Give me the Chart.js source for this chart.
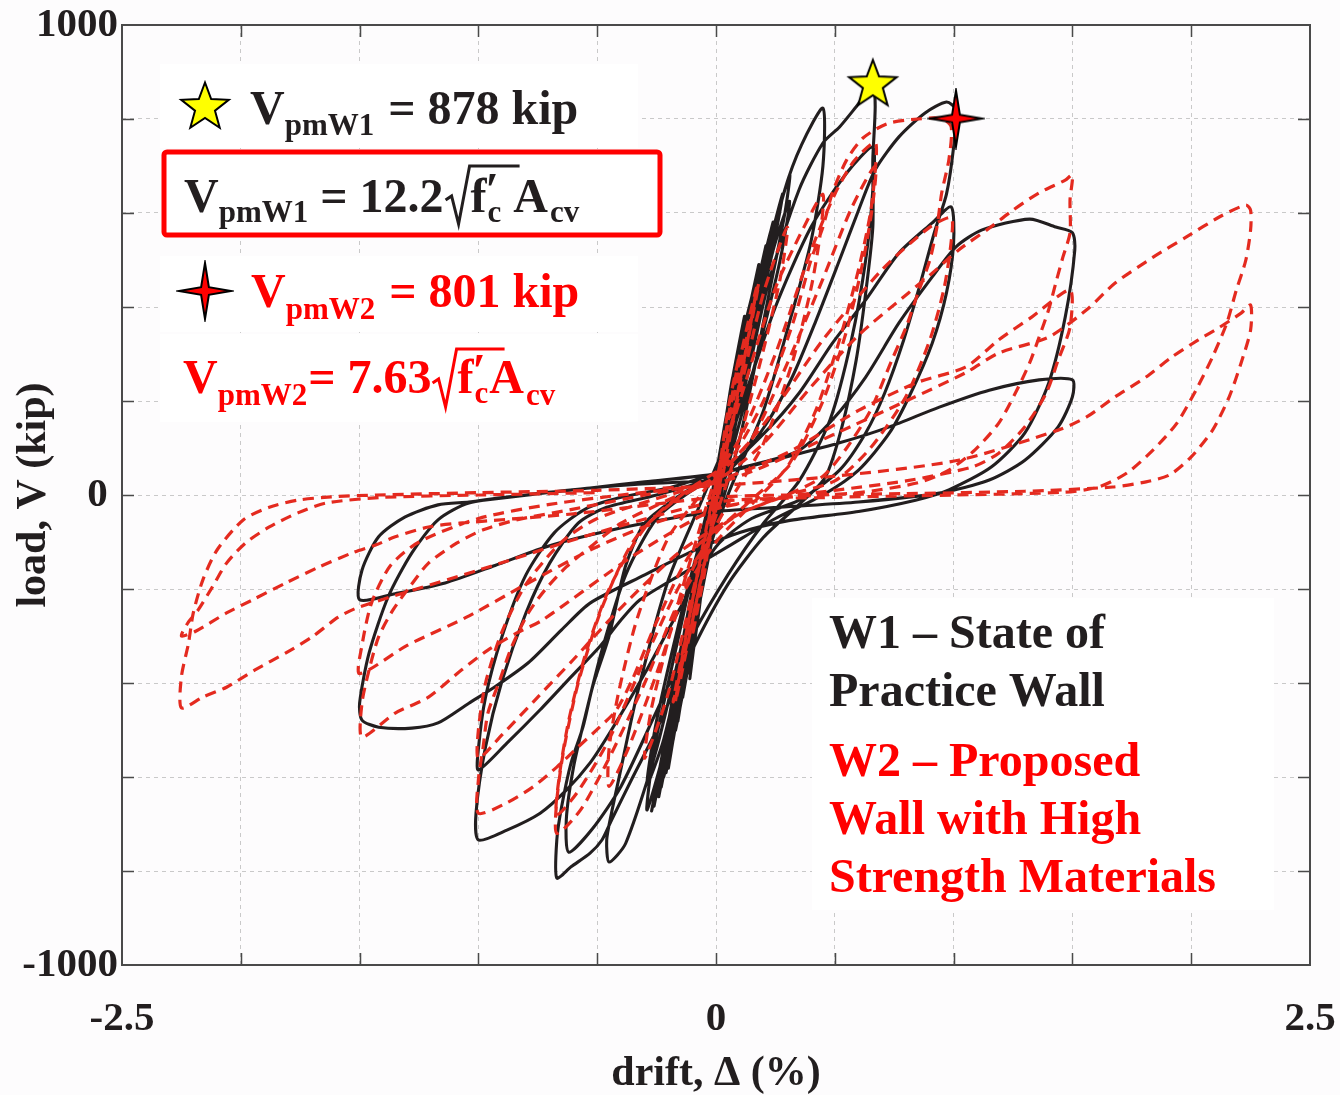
<!DOCTYPE html>
<html>
<head>
<meta charset="utf-8">
<script src="https://cdn.jsdelivr.net/npm/chart.js@4.4.1/dist/chart.umd.min.js"></script>
<style>
body { margin: 0; background: #fdfcfd; }
#wrap { width: 1340px; height: 1095px; position: relative; }
</style>
</head>
<body>
<div id="wrap"><canvas id="myChart"></canvas></div>
<script>
// axis labels that get text (grid every 0.5 % / 200 kip)
const driftLabels = [-2.5, 0, 2.5];
const loadLabels = [-1000, 0, 1000];

// peak strengths marked with stars [drift %, load kip]
const peakW1 = [0.66, 878];
const peakW2 = [1.01, 801];

// W1 - state of practice wall, [drift %, load kip] in test order
const w1Path = [
  [0,0],[0.03,120],[0.07,250],[0.05,170],[0,20],[-0.04,-120],[-0.08,-260],[-0.06,-170],[-0.02,-30],
  [0.03,130],[0.07,240],[0.04,140],[-0.01,-20],[-0.05,-140],[-0.08,-250],[-0.05,-150],[-0.01,0],
  [0.05,170],[0.1,320],[0.07,220],[0.01,30],[-0.05,-160],[-0.1,-330],[-0.07,-220],[-0.01,-10],
  [0.06,220],[0.12,380],[0.09,290],[0.02,60],[-0.05,-150],[-0.11,-390],[-0.08,-270],[-0.02,-40],
  [0.05,180],[0.12,370],[0.08,250],[0,20],[-0.06,-190],[-0.11,-380],[-0.07,-240],[-0.02,-20],
  [0.04,150],[0.12,360],[0.07,220],[-0.01,0],[-0.07,-220],[-0.12,-370],[-0.06,-200],[-0.01,10],
  [0.09,290],[0.15,420],[0.11,330],[0.03,90],[-0.07,-230],[-0.14,-430],[-0.1,-310],[-0.03,-60],
  [0.08,250],[0.17,460],[0.13,360],[0.04,100],[-0.06,-160],[-0.16,-480],[-0.12,-340],[-0.04,-80],
  [0.07,220],[0.17,450],[0.12,320],[0.02,50],[-0.09,-270],[-0.16,-470],[-0.11,-300],[-0.03,-40],
  [0.06,190],[0.16,440],[0.11,290],[0.01,30],[-0.1,-300],[-0.17,-460],[-0.1,-270],[-0.02,-10],
  [0.1,300],[0.18,490],[0.14,390],[0.04,110],[-0.08,-260],[-0.17,-500],[-0.12,-350],[-0.04,-80],
  [0.11,290],[0.19,480],[0.15,380],[0.05,110],[-0.07,-200],[-0.18,-520],[-0.13,-370],[-0.04,-70],
  [0.1,280],[0.22,540],[0.17,420],[0.06,120],[-0.08,-220],[-0.2,-580],[-0.15,-420],[-0.05,-100],
  [0.11,300],[0.21,530],[0.16,410],[0.05,100],[-0.09,-280],[-0.21,-590],[-0.16,-440],[-0.05,-100],
  [0.08,230],[0.21,520],[0.15,370],[0.03,50],[-0.1,-300],[-0.2,-570],[-0.14,-380],[-0.03,-50],
  [0.07,200],[0.2,500],[0.14,340],[0.02,30],[-0.12,-350],[-0.21,-560],[-0.13,-350],[-0.02,-20],
  [0.09,260],[0.23,560],[0.17,400],[0.04,70],[-0.12,-360],[-0.22,-600],[-0.15,-400],[-0.03,-40],
  [0.12,320],[0.24,580],[0.19,450],[0.07,130],[-0.07,-200],[-0.23,-620],[-0.17,-460],[-0.05,-90],
  [0.12,310],[0.26,600],[0.21,470],[0.08,150],[-0.06,-160],[-0.24,-640],[-0.18,-470],[-0.06,-110],
  [0.1,260],[0.26,590],[0.19,420],[0.05,70],[-0.11,-320],[-0.24,-630],[-0.17,-430],[-0.04,-60],
  [0.09,240],[0.25,570],[0.18,400],[0.04,50],[-0.13,-380],[-0.25,-620],[-0.16,-400],[-0.03,-30],
  [0.13,340],[0.27,620],[0.22,490],[0.09,170],[-0.05,-130],[-0.26,-660],[-0.19,-480],[-0.07,-130],
  [0.14,360],[0.28,640],[0.23,500],[0.1,190],[-0.04,-110],[-0.27,-670],[-0.21,-510],[-0.08,-150],
  // 0.3 %
  [0.12,280],[0.22,520],[0.31,681],[0.29,600],[0.22,420],[0.1,120],[-0.06,-170],[-0.18,-470],[-0.29,-670],[-0.26,-540],[-0.17,-330],[-0.05,-60],
  [0.12,260],[0.24,520],[0.31,625],[0.27,500],[0.17,290],[0.04,40],[-0.12,-300],[-0.22,-520],[-0.29,-615],[-0.25,-480],[-0.14,-240],[-0.02,-10],
  // 0.45 %
  [0.1,230],[0.2,470],[0.29,650],[0.36,745],[0.45,823],[0.45,700],[0.4,540],[0.32,387],[0.2,180],[0.05,0],[-0.1,-230],[-0.25,-540],[-0.38,-741],[-0.45,-781],[-0.46,-734],[-0.44,-677],[-0.41,-606],[-0.33,-420],[-0.2,-180],[-0.05,0],
  // 0.66 %
  [0.1,190],[0.22,450],[0.35,650],[0.45,749],[0.52,783],[0.59,826],[0.66,870],[0.67,826],[0.66,713],[0.66,570],[0.63,430],[0.59,287],[0.53,145],[0.46,38],[0.35,-20],[0.2,-90],[0.05,-190],[-0.1,-330],[-0.25,-500],[-0.35,-600],[-0.44,-692],[-0.48,-734],[-0.53,-762],[-0.61,-791],[-0.67,-815],[-0.67,-734],[-0.65,-664],[-0.61,-570],[-0.56,-494],[-0.52,-409],[-0.45,-300],[-0.38,-150],[-0.3,-60],[-0.15,0],
  [0,50],[0.1,180],[0.25,400],[0.4,570],[0.55,685],[0.66,740],[0.66,650],[0.63,500],[0.57,330],[0.48,160],[0.35,30],[0.2,-60],[0.05,-170],[-0.1,-300],[-0.25,-460],[-0.4,-620],[-0.52,-710],[-0.62,-760],[-0.63,-690],[-0.6,-580],[-0.55,-470],[-0.48,-330],[-0.38,-170],[-0.25,-50],[-0.1,10],
  // 1.0 %
  [0.07,60],[0.21,150],[0.32,250],[0.42,370],[0.52,500],[0.6,606],[0.67,692],[0.77,762],[0.88,813],[0.97,836],[1.01,820],[1.0,740],[0.97,640],[0.92,560],[0.86,450],[0.79,330],[0.71,217],[0.63,132],[0.52,53],[0.35,-11],[0.15,-50],[0,-110],[-0.15,-240],[-0.3,-380],[-0.44,-500],[-0.53,-570],[-0.63,-628],[-0.74,-677],[-0.88,-713],[-1.0,-734],[-1.01,-677],[-0.97,-536],[-0.9,-394],[-0.8,-251],[-0.7,-145],[-0.58,-60],[-0.46,-26],[-0.25,0],
  [0,40],[0.2,130],[0.35,217],[0.49,323],[0.63,415],[0.77,515],[0.91,579],[0.99,613],[1.0,536],[0.97,430],[0.91,323],[0.82,217],[0.73,132],[0.6,53],[0.45,0],[0.25,-50],[0.05,-110],[-0.15,-170],[-0.32,-223],[-0.4,-266],[-0.49,-323],[-0.61,-387],[-0.74,-457],[-0.88,-528],[-1.0,-585],[-1.0,-540],[-0.97,-430],[-0.9,-300],[-0.8,-170],[-0.68,-80],[-0.55,-30],[-0.4,-5],
  // 1.5 %
  [-0.2,15],[0,45],[0.2,70],[0.35,95],[0.49,160],[0.63,251],[0.77,366],[0.91,464],[1.01,528],[1.12,564],[1.32,587],[1.43,570],[1.5,558],[1.51,521],[1.47,379],[1.4,238],[1.3,132],[1.16,60],[0.98,11],[0.84,-11],[0.6,-35],[0.3,-55],[0.1,-80],[-0.1,-120],[-0.3,-170],[-0.53,-230],[-0.65,-287],[-0.79,-357],[-0.93,-408],[-1.04,-443],[-1.17,-485],[-1.28,-496],[-1.42,-494],[-1.49,-479],[-1.5,-443],[-1.46,-336],[-1.38,-217],[-1.28,-123],[-1.17,-53],[-1.04,-17],[-0.8,0],[-0.53,15],[-0.3,28],[0,45],[0.25,75],[0.52,111],[0.73,145],[0.94,187],[1.15,223],[1.36,245],[1.5,245],
  [1.5,209],[1.44,145],[1.3,74],[1.15,32],[0.94,4],[0.6,-15],[0.3,-25],[0,-35],[-0.25,-55],[-0.53,-85],[-0.72,-111],[-0.93,-150],[-1.14,-187],[-1.35,-210],[-1.5,-223],[-1.49,-160],[-1.42,-89],[-1.31,-47],[-1.17,-21],[-1.04,-15],[-0.79,0],[-0.53,15],[-0.25,25],[0,30]
];

// W2 - proposed wall with high strength materials
const w2Path = [
  [0,0],[0.05,180],[0.1,300],[0.06,190],[0,0],[-0.05,-170],[-0.1,-300],[-0.06,-180],[0,0],
  [0.08,240],[0.17,440],[0.13,320],[0.03,60],[-0.06,-170],[-0.17,-440],[-0.13,-310],[-0.03,-50],
  [0.08,220],[0.18,450],[0.12,290],[0.02,20],[-0.08,-220],[-0.18,-440],[-0.12,-280],[-0.02,-20],
  // 0.3 %
  [0.1,220],[0.2,430],[0.3,570],[0.27,460],[0.18,270],[0.06,50],[-0.08,-170],[-0.2,-420],[-0.3,-560],[-0.27,-450],[-0.17,-250],[-0.05,-40],
  // 0.45 %
  [0.1,200],[0.25,440],[0.37,570],[0.45,640],[0.44,560],[0.4,440],[0.32,280],[0.2,110],[0.05,-20],[-0.1,-160],[-0.25,-380],[-0.37,-540],[-0.45,-620],[-0.45,-540],[-0.41,-420],[-0.33,-260],[-0.2,-90],[-0.05,10],
  // 0.66 %
  [0.1,120],[0.25,300],[0.4,520],[0.5,640],[0.58,710],[0.67,750],[0.67,690],[0.65,600],[0.6,480],[0.52,330],[0.42,180],[0.3,60],[0.15,-20],[0,-100],[-0.15,-220],[-0.3,-400],[-0.45,-560],[-0.57,-670],[-0.67,-720],[-0.67,-650],[-0.64,-540],[-0.58,-400],[-0.48,-240],[-0.35,-100],[-0.2,-20],[0,40],
  [0.15,120],[0.3,280],[0.45,460],[0.57,610],[0.67,700],[0.66,620],[0.62,500],[0.55,350],[0.45,200],[0.32,70],[0.15,-10],[0,-80],[-0.15,-190],[-0.3,-350],[-0.45,-520],[-0.58,-630],[-0.67,-680],[-0.66,-600],[-0.62,-480],[-0.55,-340],[-0.45,-200],[-0.3,-70],[-0.12,10],
  // 1.0 %
  [0.05,70],[0.2,200],[0.32,360],[0.4,500],[0.45,570],[0.49,643],[0.55,713],[0.62,760],[0.72,790],[0.85,800],[0.95,801],[0.99,783],[0.98,713],[0.95,643],[0.93,570],[0.9,500],[0.85,430],[0.8,357],[0.74,287],[0.65,180],[0.55,100],[0.45,40],[0.3,0],[0.1,-40],[-0.1,-120],[-0.25,-270],[-0.35,-390],[-0.42,-458],[-0.49,-494],[-0.58,-536],[-0.67,-579],[-0.77,-621],[-0.88,-655],[-1.0,-677],[-1.0,-606],[-0.98,-536],[-0.96,-464],[-0.91,-394],[-0.86,-323],[-0.79,-251],[-0.72,-202],[-0.63,-153],[-0.53,-111],[-0.4,-60],[-0.2,-10],
  [0,40],[0.2,150],[0.45,330],[0.7,480],[0.9,570],[0.99,590],[0.99,540],[0.96,440],[0.9,330],[0.8,210],[0.65,100],[0.5,30],[0.3,0],[0.1,-40],[-0.15,-120],[-0.4,-240],[-0.6,-350],[-0.75,-430],[-0.9,-510],[-1.0,-560],[-1.0,-500],[-0.97,-400],[-0.9,-290],[-0.8,-190],[-0.65,-100],[-0.5,-50],[-0.2,0],
  // 1.5 %
  [0,30],[0.2,110],[0.4,230],[0.6,340],[0.81,430],[0.91,472],[1.02,521],[1.14,564],[1.25,606],[1.36,643],[1.47,670],[1.5,681],[1.49,628],[1.49,558],[1.46,506],[1.43,451],[1.4,394],[1.36,336],[1.32,281],[1.26,217],[1.19,153],[1.09,96],[0.98,53],[0.85,26],[0.6,5],[0.3,-5],[0,-30],[-0.35,-130],[-0.73,-266],[-0.84,-294],[-0.96,-330],[-1.07,-372],[-1.21,-430],[-1.35,-464],[-1.49,-515],[-1.49,-443],[-1.46,-372],[-1.42,-302],[-1.36,-245],[-1.29,-196],[-1.21,-145],[-1.09,-102],[-0.98,-74],[-0.84,-53],[-0.6,-30],[-0.3,0],
  [0,30],[0.3,90],[0.6,180],[0.85,240],[1.05,272],[1.19,330],[1.33,379],[1.49,436],[1.49,357],[1.44,287],[1.39,217],[1.3,145],[1.19,89],[1.08,60],[0.8,30],[0.5,10],[0.2,-10],[-0.2,-50],[-0.5,-110],[-0.8,-190],[-1.05,-260],[-1.3,-320],[-1.5,-380],[-1.49,-320],[-1.45,-230],[-1.37,-150],[-1.25,-100],[-1.0,-50],[-0.7,-20],[-0.4,0],
  // 2.25 %
  [0,25],[0.2,60],[0.5,130],[0.8,200],[1.05,260],[1.19,302],[1.4,336],[1.56,394],[1.68,451],[1.84,506],[1.98,549],[2.12,592],[2.23,617],[2.25,606],[2.25,564],[2.23,500],[2.19,436],[2.15,366],[2.09,294],[2.02,223],[1.94,153],[1.84,96],[1.73,47],[1.61,17],[1.47,6],[1.0,0],[0.5,-5],[0,-15],[-0.5,-80],[-1.0,-160],[-1.5,-238],[-1.59,-260],[-1.7,-302],[-1.81,-336],[-1.94,-372],[-2.06,-409],[-2.16,-430],[-2.25,-453],[-2.25,-387],[-2.22,-315],[-2.2,-251],[-2.16,-181],[-2.1,-117],[-1.99,-53],[-1.88,-26],[-1.76,-11],[-1.62,-4],[-1.43,0],[-1.0,5],[-0.5,10],[0,20],[0.5,40],[1.02,74],[1.44,138],[1.56,166],[1.68,209],[1.81,251],[1.92,294],[2.03,330],[2.12,357],[2.21,387],[2.25,404],
  [2.25,351],[2.21,281],[2.16,209],[2.09,138],[2.0,81],[1.91,43],[1.81,28],[1.67,17],[1.3,8],[0.8,3],[0.3,0],[0,-5],[-0.6,-40],[-1.08,-60],[-1.21,-68],[-1.35,-89],[-1.43,-106],[-1.53,-123],[-1.67,-153],[-1.81,-187],[-1.95,-223],[-2.06,-251],[-2.19,-290],[-2.25,-300],[-2.22,-270],[-2.18,-245],[-2.12,-196],[-2.06,-145],[-1.98,-102],[-1.88,-68],[-1.76,-38],[-1.64,-17],[-1.4,-5],[-1.0,0],[-0.5,5]
];

const serif = "'Liberation Serif', 'Times New Roman', serif";
const big = "bold 48px " + serif;
const small = "bold 31px " + serif;
const ink = '#221e1f';
const red = '#ff0000';
const dashRed = '#e42a1f';

// filled star marker as a canvas, usable as pointStyle
function makeStar(n, rx, ry, inner, fill) {
  const c = document.createElement('canvas');
  c.width = Math.ceil(rx * 2 + 6);
  c.height = Math.ceil(ry * 2 + 6);
  const g = c.getContext('2d');
  const shift = n === 5 ? ry * 0.1 : 0;
  g.translate(c.width / 2, c.height / 2 + shift);
  g.beginPath();
  for (let i = 0; i < n * 2; i++) {
    const a = -Math.PI / 2 + i * Math.PI / n;
    const ox = i % 2 ? inner : rx;
    const oy = i % 2 ? inner : ry;
    g.lineTo(Math.cos(a) * ox, Math.sin(a) * oy);
  }
  g.closePath();
  g.fillStyle = fill;
  g.fill();
  g.lineWidth = 2;
  g.strokeStyle = '#000';
  g.stroke();
  return c;
}
const yellowStar = makeStar(5, 25, 25, 10.5, '#ffff00');
const redStar = makeStar(4, 26, 28, 5.5, '#ff0000');

function put(ctx, text, x, y, font) {
  ctx.font = font;
  ctx.fillText(text, x, y);
  return x + ctx.measureText(text).width;
}

function radical(ctx, x, top, bottom, end) {
  ctx.beginPath();
  ctx.moveTo(x, bottom - 24);
  ctx.lineTo(x + 6, bottom - 28);
  ctx.lineTo(x + 13, bottom);
  ctx.lineTo(x + 24, top);
  ctx.lineTo(end, top);
  ctx.lineWidth = 3;
  ctx.stroke();
}

const toXY = p => ({ x: p[0], y: p[1] });

// frame, inward ticks, white label patches and annotation text
const annotate = {
  id: 'annotate',
  beforeDatasetsDraw(chart) {
    const ctx = chart.ctx;
    ctx.save();
    ctx.fillStyle = '#ffffff';
    ctx.fillRect(160, 64, 478, 84);
    ctx.fillRect(162, 150, 500, 87);
    ctx.fillRect(160, 256, 478, 76);
    ctx.fillRect(160, 334, 478, 88);
    ctx.fillRect(812, 598, 462, 312);
    ctx.restore();
  },
  afterDatasetsDraw(chart) {
    const ctx = chart.ctx;
    const a = chart.chartArea;
    const xs = chart.scales.x, ys = chart.scales.y;
    ctx.save();
    ctx.strokeStyle = '#4a4a4a';
    ctx.lineWidth = 2;
    ctx.strokeRect(a.left, a.top, a.right - a.left, a.bottom - a.top);
    ctx.beginPath();
    for (let v = -2; v <= 2.01; v += 0.5) {
      const px = Math.round(xs.getPixelForValue(v)) + 0.5;
      ctx.moveTo(px, a.bottom); ctx.lineTo(px, a.bottom - 12);
      ctx.moveTo(px, a.top); ctx.lineTo(px, a.top + 12);
    }
    for (let v = -800; v <= 800; v += 200) {
      const py = Math.round(ys.getPixelForValue(v)) + 0.5;
      ctx.moveTo(a.left, py); ctx.lineTo(a.left + 12, py);
      ctx.moveTo(a.right, py); ctx.lineTo(a.right - 12, py);
    }
    ctx.lineWidth = 1.5;
    ctx.stroke();

    ctx.textBaseline = 'alphabetic';
    ctx.textAlign = 'left';

    // W1 peak
    ctx.drawImage(yellowStar, 205 - yellowStar.width / 2, 105 - yellowStar.height / 2);
    ctx.fillStyle = ink;
    let x = put(ctx, 'V', 250, 124, big);
    x = put(ctx, 'pmW1', x, 135, small);
    put(ctx, ' = 878 kip', x + 2, 124, big);

    // W1 formula in a red box
    ctx.strokeStyle = red;
    ctx.lineWidth = 5;
    ctx.beginPath();
    ctx.roundRect(164, 152, 496, 83, 3);
    ctx.stroke();
    ctx.fillStyle = ink;
    ctx.strokeStyle = ink;
    x = put(ctx, 'V', 184, 212, big);
    x = put(ctx, 'pmW1', x, 222, small);
    x = put(ctx, ' = 12.2', x, 212, big);
    radical(ctx, x + 2, 166, 224, x + 76);
    x = put(ctx, 'f', x + 27, 212, big);
    put(ctx, '\u2032', x - 1, 206, big);
    x = put(ctx, 'c', x + 1, 222, small);
    x = put(ctx, 'A', x + 12, 212, big);
    put(ctx, 'cv', x + 2, 222, small);

    // W2 peak
    ctx.drawImage(redStar, 205 - redStar.width / 2, 291 - redStar.height / 2);
    ctx.fillStyle = red;
    ctx.strokeStyle = red;
    x = put(ctx, 'V', 251, 307, big);
    x = put(ctx, 'pmW2', x, 319, small);
    put(ctx, ' = 801 kip', x + 2, 307, big);

    x = put(ctx, 'V', 183, 393, big);
    x = put(ctx, 'pmW2', x, 405, small);
    x = put(ctx, '= 7.63', x + 1, 393, big);
    radical(ctx, x + 1, 349, 407, x + 73);
    x = put(ctx, 'f', x + 26, 393, big);
    put(ctx, '\u2032', x - 1, 387, big);
    x = put(ctx, 'c', x + 1, 403, small);
    x = put(ctx, 'A', x + 1, 393, big);
    put(ctx, 'cv', x + 2, 405, small);

    // specimen notes
    ctx.fillStyle = ink;
    put(ctx, 'W1 \u2013 State of', 829, 648, big);
    put(ctx, 'Practice Wall', 829, 706, big);
    ctx.fillStyle = red;
    put(ctx, 'W2 \u2013 Proposed', 829, 776, big);
    put(ctx, 'Wall with High', 829, 834, big);
    put(ctx, 'Strength Materials', 829, 892, big);
    ctx.restore();
  }
};

const tickFont = { family: serif, size: 41, weight: 'bold' };
const titleFont = { family: serif, size: 42, weight: 'bold' };

new Chart(document.getElementById('myChart'), {
  type: 'scatter',
  data: {
    datasets: [
      {
        label: 'W1 peak',
        data: [toXY(peakW1)],
        pointStyle: yellowStar,
        showLine: false
      },
      {
        label: 'W2 peak',
        data: [toXY(peakW2)],
        pointStyle: redStar,
        showLine: false
      },
      {
        label: 'W2',
        data: w2Path.map(toXY),
        showLine: true,
        borderColor: dashRed,
        borderWidth: 3.2,
        borderDash: [11, 7],
        pointRadius: 0,
        tension: 0.25
      },
      {
        label: 'W1',
        data: w1Path.map(toXY),
        showLine: true,
        borderColor: ink,
        borderWidth: 3.1,
        pointRadius: 0,
        tension: 0.25
      }
    ]
  },
  options: {
    responsive: true,
    maintainAspectRatio: false,
    animation: false,
    layout: { autoPadding: false, padding: { top: 25, right: 30, bottom: 0, left: 0 } },
    plugins: { legend: { display: false }, tooltip: { enabled: false } },
    scales: {
      x: {
        min: -2.5, max: 2.5,
        // fixed band below the plot; label overhang fits in the page margin
        afterFit: s => { s.height = 130; s.paddingLeft = 0; s.paddingRight = 0; },
        ticks: {
          stepSize: 0.5, autoSkip: false, maxRotation: 0,
          padding: 30, color: ink, font: tickFont,
          callback: v => driftLabels.includes(v) ? String(v) : ''
        },
        grid: { color: '#c9c9c9', lineWidth: 1, drawTicks: false },
        border: { display: false, dash: [4, 4] },
        title: { display: true, text: 'drift, \u0394 (%)', color: ink, font: titleFont, padding: { top: 0, bottom: -4 } }
      },
      y: {
        min: -1000, max: 1000,
        afterFit: s => { s.width = 122; s.paddingTop = 0; s.paddingBottom = 0; },
        ticks: {
          stepSize: 200, autoSkip: false,
          padding: 4, color: ink, font: tickFont,
          callback: v => loadLabels.includes(v) ? (v === 0 ? '0 ' : String(v)) : ''
        },
        grid: { color: '#c9c9c9', lineWidth: 1, drawTicks: false },
        border: { display: false, dash: [4, 4] },
        title: { display: true, text: 'load, V (kip)', color: ink, font: titleFont, padding: { top: 9, bottom: 0 } }
      }
    }
  },
  plugins: [annotate]
});
</script>
</body>
</html>
